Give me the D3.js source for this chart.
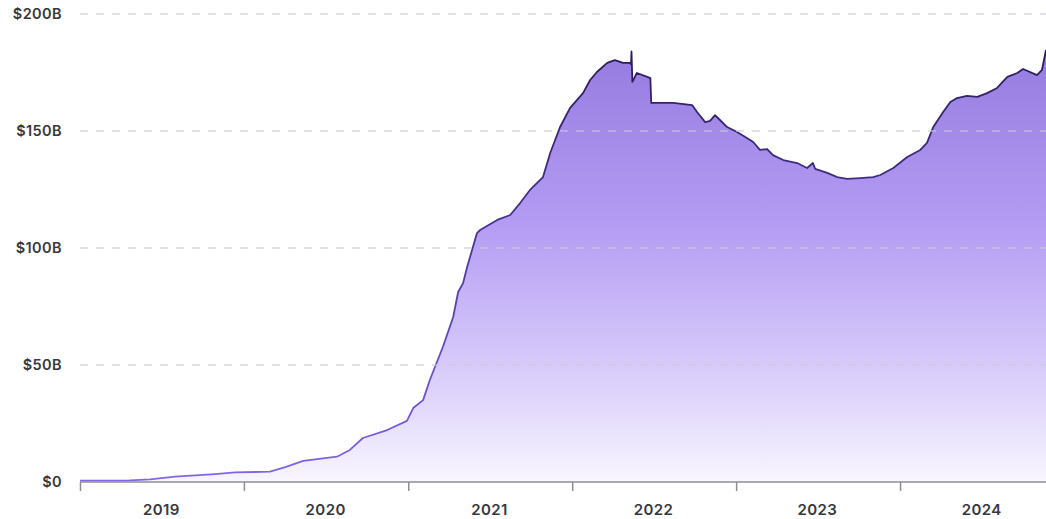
<!DOCTYPE html>
<html>
<head>
<meta charset="utf-8">
<script src="https://cdn.jsdelivr.net/npm/d3@7"></script>
<style>
  html, body { margin: 0; padding: 0; background: #ffffff; }
  svg { display: block; }
  text { font-family: Inter, "Noto Sans", sans-serif; }
</style>
</head>
<body>
<svg id="chart" width="1046" height="519"></svg>
<script>
// Stablecoin supply, USD billions
const dates = [
  "2019-01-01","2019-04-22","2019-06-06","2019-08-01","2019-10-29","2019-12-12",
  "2020-02-28","2020-04-02","2020-05-12","2020-07-26","2020-08-24","2020-09-22","2020-11-15","2020-12-29",
  "2021-01-12","2021-02-03","2021-02-18","2021-03-19","2021-04-11","2021-04-22","2021-05-03","2021-05-12",
  "2021-05-23","2021-06-03","2021-06-10","2021-07-18","2021-08-16","2021-09-07","2021-09-29","2021-10-28",
  "2021-11-13","2021-12-05","2021-12-27",
  "2022-01-25","2022-02-10","2022-02-25","2022-03-20","2022-04-06","2022-04-24","2022-05-10","2022-05-12",
  "2022-05-13","2022-05-15","2022-05-25","2022-06-17","2022-06-24","2022-06-26","2022-07-16","2022-08-14",
  "2022-09-25","2022-10-06","2022-10-24","2022-11-04","2022-11-15","2022-11-26","2022-12-12",
  "2023-01-03","2023-01-25","2023-02-08","2023-02-23","2023-03-11","2023-03-24","2023-04-16","2023-05-17",
  "2023-06-08","2023-06-21","2023-06-26","2023-07-23","2023-08-14","2023-09-05","2023-10-04","2023-11-02",
  "2023-11-18","2023-12-17",
  "2024-01-17","2024-02-15","2024-03-01","2024-03-15","2024-04-06","2024-04-22","2024-05-07","2024-05-29",
  "2024-06-21","2024-07-13","2024-08-04","2024-08-27","2024-09-18","2024-10-01","2024-11-01","2024-11-12",
  "2024-11-21"
];
const supply = [
  0.6, 0.7, 1.1, 2.3, 3.4, 4.1,
  4.4, 6.4, 9.0, 10.8, 13.7, 18.8, 22.2, 26.1,
  31.6, 35.0, 43.6, 57.7, 70.5, 81.2, 85.0, 91.9,
  99.1, 106.4, 107.7, 112.0, 114.1, 119.2, 124.8, 130.3,
  140.6, 151.7, 159.8,
  166.2, 171.8, 175.2, 179.1, 180.3, 179.1, 179.1, 178.5,
  184.0, 171.0, 174.8, 173.1, 172.6, 162.0, 162.0, 162.0,
  161.1, 158.1, 153.8, 154.3, 156.8, 154.7, 151.7,
  149.6, 147.0, 145.3, 141.9, 142.3, 139.7, 137.6, 136.3,
  134.2, 136.3, 133.8, 132.1, 130.3, 129.5, 129.9, 130.3,
  131.2, 134.2,
  138.9, 141.9, 144.9, 151.7, 158.1, 162.4, 164.1, 165.0,
  164.6, 166.2, 168.4, 173.1, 174.8, 176.5, 173.9, 176.1,
  184.6
];
const yTicks = [0, 50, 100, 150, 200];
const yTickLabels = ["$0", "$50B", "$100B", "$150B", "$200B"];
const yearTicks = ["2019-01-01","2020-01-01","2021-01-01","2022-01-01","2023-01-01","2024-01-01"];
const yearLabels = ["2019","2020","2021","2022","2023","2024"];

const parse = d3.timeParse("%Y-%m-%d");
const data = dates.map((d, i) => ({ date: parse(d), value: supply[i] }));

const svg = d3.select("#chart");
const W = 1046, H = 519;
const margin = { left: 80, right: 0, top: 14, bottom: 37 };

const x = d3.scaleTime()
  .domain([parse("2019-01-01"), parse("2024-11-21")])
  .range([margin.left, W - margin.right]);
const y = d3.scaleLinear()
  .domain([0, 200])
  .range([H - margin.bottom, margin.top]);

const defs = svg.append("defs");
const fillGrad = defs.append("linearGradient")
  .attr("id", "areaFill")
  .attr("gradientUnits", "userSpaceOnUse")
  .attr("x1", 0).attr("x2", 0)
  .attr("y1", y(200)).attr("y2", y(0));
fillGrad.append("stop").attr("offset", "0%").attr("stop-color", "#8f74da");
fillGrad.append("stop").attr("offset", "45%").attr("stop-color", "#b49cf4");
fillGrad.append("stop").attr("offset", "80%").attr("stop-color", "#ddd2fb");
fillGrad.append("stop").attr("offset", "100%").attr("stop-color", "#f8f6fe");

const lineGrad = defs.append("linearGradient")
  .attr("id", "lineStroke")
  .attr("gradientUnits", "userSpaceOnUse")
  .attr("x1", 0).attr("x2", 0)
  .attr("y1", y(200)).attr("y2", y(0));
lineGrad.append("stop").attr("offset", "0%").attr("stop-color", "#24174f");
lineGrad.append("stop").attr("offset", "50%").attr("stop-color", "#4b379a");
lineGrad.append("stop").attr("offset", "100%").attr("stop-color", "#8466ea");

// Area under the supply curve
const area = d3.area()
  .x(d => x(d.date))
  .y0(y(0))
  .y1(d => y(d.value));
svg.append("path")
  .datum(data)
  .attr("d", area)
  .attr("fill", "url(#areaFill)");

const line = d3.line()
  .x(d => x(d.date))
  .y(d => y(d.value));
svg.append("path")
  .datum(data)
  .attr("d", line)
  .attr("fill", "none")
  .attr("stroke", "url(#lineStroke)")
  .attr("stroke-width", 1.8)
  .attr("stroke-linejoin", "round");

// Dashed horizontal gridlines
svg.append("g")
  .selectAll("line")
  .data(yTicks.filter(v => v > 0))
  .join("line")
  .attr("x1", margin.left).attr("x2", W)
  .attr("y1", d => y(d)).attr("y2", d => y(d))
  .attr("stroke", "#c9c9d6")
  .attr("stroke-opacity", 0.75)
  .attr("stroke-width", 1.5)
  .attr("stroke-dasharray", "8,8");

// Y axis labels
const yAxis = d3.axisLeft(y)
  .tickValues(yTicks)
  .tickFormat((d, i) => yTickLabels[i])
  .tickSize(0)
  .tickPadding(18);
const gy = svg.append("g")
  .attr("transform", `translate(${margin.left},0)`)
  .call(yAxis);
gy.select(".domain").remove();
gy.selectAll("text")
  .attr("font-family", "Inter, 'Noto Sans', sans-serif")
  .attr("font-size", 14.5)
  .attr("font-weight", 600)
  .attr("letter-spacing", 0.4)
  .attr("fill", "#38383c");

// X axis: year boundaries as ticks, year labels centred within each year
const tickDates = yearTicks.map(parse);
const xAxis = d3.axisBottom(x)
  .tickValues(tickDates)
  .tickSize(9)
  .tickFormat("");
const gx = svg.append("g")
  .attr("transform", `translate(0,${y(0)})`)
  .call(xAxis);
gx.select(".domain")
  .attr("d", `M${margin.left},0H${W}`)
  .attr("stroke", "#8e8e94")
  .attr("stroke-width", 1.5);
gx.selectAll(".tick line")
  .attr("stroke", "#8e8e94")
  .attr("stroke-width", 1.5);

svg.append("g")
  .selectAll("text")
  .data(yearLabels)
  .join("text")
  .attr("x", (d, i) => x(d3.timeMonth.offset(tickDates[i], 6)))
  .attr("y", y(0) + 33)
  .attr("text-anchor", "middle")
  .attr("font-size", 15)
  .attr("font-weight", 600)
  .attr("letter-spacing", 0.4)
  .attr("fill", "#38383c")
  .text(d => d);
</script>
</body>
</html>
